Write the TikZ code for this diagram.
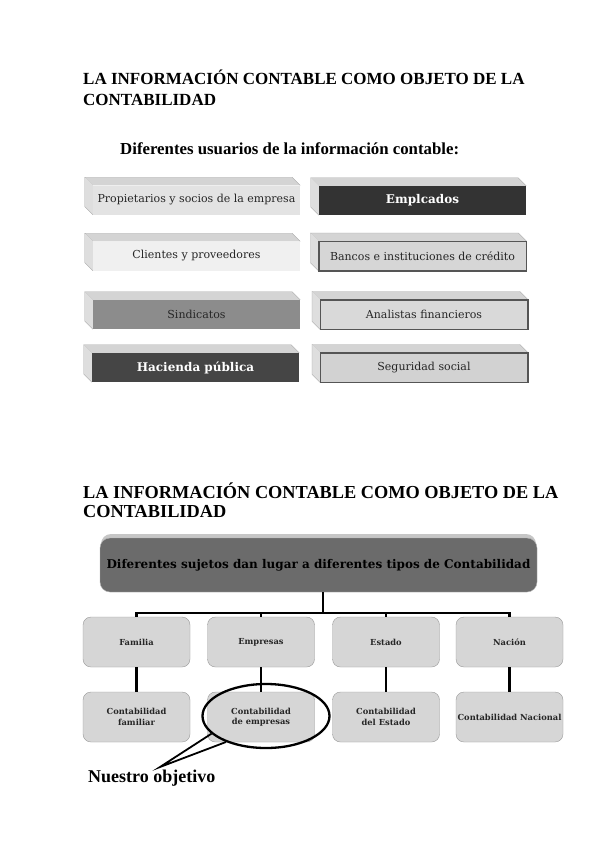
\documentclass[tikz,border=0pt]{standalone}
\usepackage{fontspec}
\setmainfont{Liberation Serif}
\newfontfamily\boxfont{DejaVu Serif}
\usetikzlibrary{shapes.geometric,calc}
\definecolor{bordc}{HTML}{555555}
\definecolor{topf}{HTML}{D4D4D4}
\definecolor{leftf}{HTML}{DEDEDE}
\begin{document}
\begin{tikzpicture}[x=1pt,y=-1pt,
  ubox/.style={minimum width=207pt,minimum height=29pt,inner sep=0pt,
    font=\boxfont\fontsize{11}{12}\selectfont,text=black!85},
  dbox/.style={ubox,text=white,font=\boxfont\fontsize{12}{13}\selectfont\bfseries},
  edged/.style={draw=bordc,line width=0.9pt},
  face/.style={draw=gray!70,line width=0.3pt},
  ttl/.style={anchor=north west,inner sep=0pt,align=left,font=\fontsize{17}{21}\selectfont\bfseries},
  ttlb/.style={anchor=north west,inner sep=0pt,align=left,font=\fontsize{18.3}{18.5}\selectfont\bfseries},
  rbox/.style={draw=gray!80,fill=gray!32,rounded corners=8pt,minimum width=107pt,
    minimum height=50pt,inner sep=1pt,align=center,font=\boxfont\fontsize{8.3}{10.5}\selectfont\bfseries,text=black!85},
  conn/.style={line width=2.5pt,black}
]
\useasboundingbox[fill=white] (0,0) rectangle (610,848);

% ---------- Part 1 ----------
\node[ttl] (t1) at (83,70) {LA INFORMACIÓN CONTABLE COMO OBJETO DE LA\\CONTABILIDAD};
\node[anchor=west,inner sep=0pt,font=\fontsize{16.8}{18}\selectfont\bfseries] (sub) at (120,149) {Diferentes usuarios de la información contable:};

\newcommand{\prismfaces}[1]{%
  \fill[topf] (#1.north west) -- ++(-8,-8) -- ($(#1.north east)+(-8,-8)$) -- (#1.north east) -- cycle;
  \draw[face] (#1.north west) -- ++(-8,-8) -- ($(#1.north east)+(-8,-8)$) -- (#1.north east);
  \fill[leftf] (#1.north west) -- ++(-8,-8) -- ($(#1.south west)+(-8,-8)$) -- (#1.south west) -- cycle;
  \draw[face] ($(#1.north west)+(-8,-8)$) -- ($(#1.south west)+(-8,-8)$) -- (#1.south west);
}

\node[ubox,fill=gray!22] (p1) at (196.5,200) {Propietarios y socios de la empresa};
\prismfaces{p1}
\node[dbox,fill=black!80] (p2) at (422.5,200.5) {Emplcados};
\prismfaces{p2}
\node[ubox,fill=gray!12] (p3) at (196.5,256) {Clientes y proveedores};
\prismfaces{p3}
\node[ubox,fill=gray!32,edged] (p4) at (422.5,256) {Bancos e instituciones de crédito};
\prismfaces{p4}
\node[ubox,fill=black!45] (p5) at (196.5,314.5) {Sindicatos};
\prismfaces{p5}
\node[ubox,fill=gray!30,edged] (p6) at (424,314.5) {Analistas financieros};
\prismfaces{p6}
\node[dbox,fill=black!73] (p7) at (195.5,367.5) {Hacienda pública};
\prismfaces{p7}
\node[ubox,fill=gray!35,edged] (p8) at (424,367.5) {Seguridad social};
\prismfaces{p8}
\foreach \n in {p4,p6,p8}{\draw[edged] (\n.north west) rectangle (\n.south east);}

% ---------- Part 2 ----------
\node[ttlb] (t2) at (83,483) {LA INFORMACIÓN CONTABLE COMO OBJETO DE LA\\CONTABILIDAD};

\fill[gray!45,rounded corners=10pt] (101,534) rectangle (536,560);
\node[draw=gray!60,fill=black!58,rounded corners=10pt,minimum width=437pt,minimum height=54pt,
  inner sep=0pt,font=\boxfont\fontsize{12}{13}\selectfont\bfseries] (top) at (318.5,565)
  {Diferentes sujetos dan lugar a diferentes tipos de Contabilidad};

\node[rbox] (fam) at (136.5,642) {Familia};
\node[rbox] (emp) at (261,642) {Empresas};
\node[rbox] (est) at (386,642) {Estado};
\node[rbox] (nac) at (509.5,642) {Nación};
\node[rbox] (cfam) at (136.5,717) {Contabilidad\\familiar};
\node[rbox] (cemp) at (261,717) {Contabilidad\\de empresas};
\node[rbox] (cest) at (386,717) {Contabilidad\\del Estado};
\node[rbox,inner sep=0pt] (cnac) at (509.5,717) {Contabilidad Nacional};

\coordinate (j) at (323,613);
\draw[conn] (j |- top.south) -- (j);
\draw[conn] (fam.north) |- (j);
\draw[conn] (emp.north) |- (j);
\draw[conn] (est.north) |- (j);
\draw[conn] (nac.north) |- (j);
\draw[conn] (fam) -- (cfam);
\draw[conn] (emp) -- (cemp);
\draw[conn] (est) -- (cest);
\draw[conn] (nac) -- (cnac);

\node[draw,line width=2.3pt,ellipse,minimum width=127pt,minimum height=64pt] (ell) at (266,716) {};
\coordinate (tip) at (160,767);
\draw[line width=1.8pt,line join=miter] (ell.198) -- (tip) -- (ell.213);

\node[anchor=west,inner sep=0pt,font=\fontsize{18}{20}\selectfont\bfseries] (obj) at (88,778) {Nuestro objetivo};
\end{tikzpicture}
\end{document}
